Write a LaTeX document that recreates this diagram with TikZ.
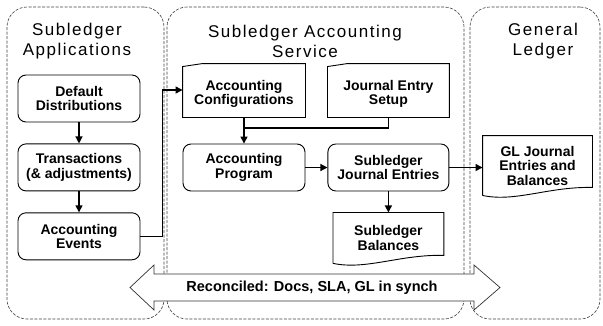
\documentclass[tikz,border=0pt]{standalone}
\usepackage{fontspec}
\setmainfont{Liberation Sans}
\newfontfamily\headfont[LetterSpace=9]{Liberation Sans}
\usetikzlibrary{arrows.meta,calc,positioning}

\begin{document}
\begin{tikzpicture}
  [
    x = 1pt,
    y = -1pt,
    panel/.style = {
      draw = black!75,
      dash pattern = on 3pt off 1.5pt,
      line width = 0.6pt,
      rounded corners = 20pt,
      inner sep = 0pt,
    },
    heading/.style = {
      font = \headfont\fontsize{17}{20}\selectfont,
      align = center,
    },
    proc/.style = {
      draw,
      line width = 0.9pt,
      rounded corners = 8pt,
      minimum width = 122pt,
      minimum height = 47pt,
      align = center,
      font = \bfseries\fontsize{14}{14.5}\selectfont,
    },
    plain/.style = {
      proc,
      draw = none,
    },
    outline/.style = {
      line width = 0.9pt,
    },
    flow/.style = {
      ->,
      line width = 1.3pt,
    },
    > = {Triangle[length=7pt,width=7pt]},
  ]

  \useasboundingbox (0,0) rectangle (603,325);

  % swim lanes
  \node (apps)    [panel, minimum width=157pt, minimum height=312pt] at (85.5,163) {};
  \node (sla)     [panel, minimum width=297pt, minimum height=312pt] at (315.5,163) {};
  \node (gledger) [panel, minimum width=130pt, minimum height=312pt] at (535,163) {};

  \node (appstitle) [heading] at (77,41)  {Subledger\\Applications};
  \node (slatitle)  [heading] at (305,41) {Subledger Accounting\\Service};
  \node (gltitle)   [heading] at (543,41) {General\\Ledger};

  % reconciliation band
  \draw [draw=black!80, fill=white, line width=0.7pt]
    (130,287.5) -- (154,265) -- (154,274) -- (474,274) -- (474,265) -- (500,287.5)
    -- (474,310) -- (474,301) -- (154,301) -- (154,310) -- cycle;
  \node (recon) [font=\bfseries\fontsize{14.5}{15}\selectfont] at (312,287.5)
    {Reconciled: Docs, SLA, GL in synch};

  % subledger applications
  \node (dd) [proc] at (79,98.5) {Default\\Distributions};
  \node (tx) [proc, below = 21pt of dd] {Transactions\\(\& adjustments)};
  \node (ev) [proc, below = 21pt of tx] {Accounting\\Events};

  % accounting service
  \node (cfg) [plain, minimum height=46pt] at (244,94) {Accounting\\Configurations};
  \node (jes) [plain, minimum height=46pt, minimum width=121pt, right = 22pt of cfg] {Journal Entry\\Setup};
  \node (prog) [proc] at (244,167.5) {Accounting\\Program};
  \node (sje) [proc, minimum width=121pt, right = 22pt of prog] {Subledger\\Journal Entries};
  \node (sbal) [plain, minimum width=110pt, minimum height=50pt, below = 21pt of sje] {Subledger\\Balances};

  % general ledger
  \node (gl) [plain, minimum width=109pt, minimum height=59pt] at (537.5,165.5) {GL Journal\\Entries and\\Balances};

  % setup cards
  \foreach \n in {cfg,jes}
    \draw [outline] (\n.south west) -- ([yshift=4pt]\n.north west) -- ([xshift=20pt,yshift=7pt]\n.north west)
      -- ([yshift=7pt]\n.north east) -- (\n.south east) -- cycle;

  % documents
  \foreach \n in {sbal,gl}
    \draw [outline] (\n.south west) -- (\n.north west) -- (\n.north east) -- ([yshift=8pt]\n.south east)
      .. controls ($(\n.south west)!0.6!(\n.south east)+(0,9pt)$)
      and ($(\n.south west)!0.3!(\n.south east)+(0,-7pt)$) .. (\n.south west);

  % connectors
  \coordinate (merge) at ($(cfg.south)!0.4!(prog.north)$);

  \draw [flow] (dd) -- (tx);
  \draw [flow] (tx) -- (ev);
  \draw [flow] (ev.east) -- ++(22,0) |- ([yshift=4pt]cfg.west);
  \draw [flow] (cfg) -- (prog);
  \draw [line width=1.3pt] (jes.south) |- (merge);
  \draw [flow] (prog) -- (sje);
  \draw [flow] (sje) -- (sbal);
  \draw [flow] (sje.east) -- (sje.east -| gl.west);

\end{tikzpicture}
\end{document}
